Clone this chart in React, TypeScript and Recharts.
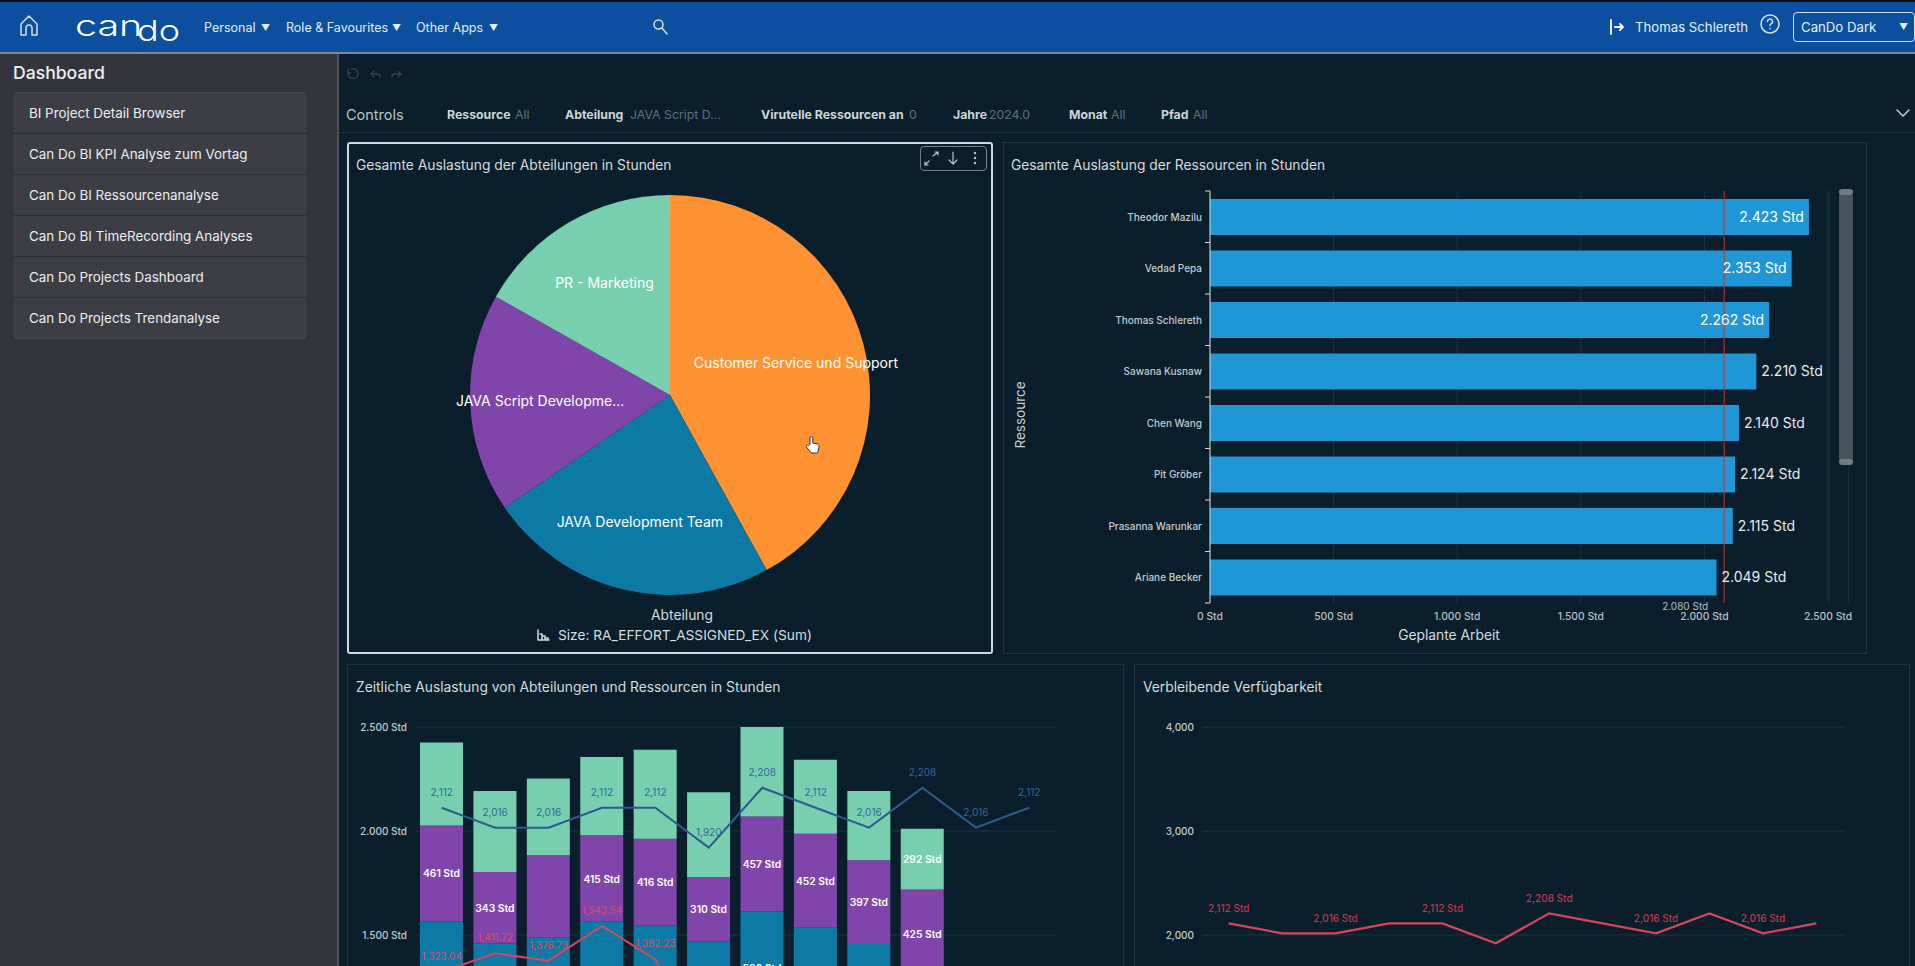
import { CSSProperties, ReactNode } from 'react';
import {
  Bar, BarChart, CartesianGrid, Cell, ComposedChart, Label, LabelList, Line, LineChart,
  Pie, PieChart, ReferenceLine, XAxis, YAxis,
} from 'recharts';

const FONT = 'Inter, "Noto Sans", sans-serif';

// sidebar + toolbar text
const sidebarItems = [
  'BI Project Detail Browser',
  'Can Do BI KPI Analyse zum Vortag',
  'Can Do BI Ressourcenanalyse',
  'Can Do BI TimeRecording Analyses',
  'Can Do Projects Dashboard',
  'Can Do Projects Trendanalyse',
];

// pie
const departments = ['Customer Service und Support', 'JAVA Development Team', 'JAVA Script Developme...', 'PR - Marketing'];
const departmentHours = [9860, 5520, 4160, 3950];
const departmentColors = ['#FF9232', '#0C7AA4', '#7F45AA', '#77CFB0'];

// horizontal bars
const resources = ['Theodor Mazilu', 'Vedad Pepa', 'Thomas Schlereth', 'Sawana Kusnaw', 'Chen Wang', 'Pit Gröber', 'Prasanna Warunkar', 'Ariane Becker'];
const plannedHours = [2423, 2353, 2262, 2210, 2140, 2124, 2115, 2049];
const plannedInside = [2423, 2353, 2262, null, null, null, null, null];
const plannedOutside = [null, null, null, 2210, 2140, 2124, 2115, 2049];
const plannedTicks = [0, 500, 1000, 1500, 2000, 2500];
const averagePlanned = 2080;

// stacked bars, the lower part runs off the page so orange and most of blue are estimates
const months = ['Jan', 'Feb', 'Mär', 'Apr', 'Mai', 'Jun', 'Jul', 'Aug', 'Sep', 'Okt', 'Nov', 'Dez'];
const customerHours = [1006, 955, 967, 1009, 1002, 969, 1017, 995, 952, 854, null, null];
const javaHours = [560, 505, 520, 555, 545, 500, 596, 540, 510, 440, null, null];
const scriptHours = [461, 343, 396, 415, 416, 310, 457, 452, 397, 425, null, null];
const marketingHours = [398, 389, 369, 377, 428, 407, 430, 356, 333, 292, null, null];
const javaShown = [null, null, null, null, null, null, 596, null, null, null, null, null];
const scriptShown = [461, 343, null, 415, 416, 310, 457, 452, 397, 425, null, null];
const marketingShown = [null, null, null, null, null, null, null, null, null, 292, null, null];
const capacity = [2112, 2016, 2016, 2112, 2112, 1920, 2208, 2112, 2016, 2208, 2016, 2112];
const assigned = [1323.04, 1411.72, 1376.73, 1543.54, 1382.23, 950, 1010, 1080, 1020, 1100, 700, 650];
const assignedShown = [1323.04, 1411.72, 1376.73, 1543.54, 1382.23, null, null, null, null, null, null, null];
const stackedTicks = [1500, 2000, 2500];

// remaining availability
const availabilityShown = [2112, null, 2016, null, 2112, null, 2208, null, 2016, null, 2016, null];
const availabilityTicks = [2000, 3000, 4000];

const pieData = departments.map((name, i) => ({ name, value: departmentHours[i] }));
const barData = resources.map((name, i) => ({ name, value: plannedHours[i], inside: plannedInside[i], outside: plannedOutside[i] }));
const stackData = months.map((month, i) => ({
  month,
  customer: customerHours[i],
  java: javaHours[i],
  script: scriptHours[i],
  marketing: marketingHours[i],
  javaLabel: javaShown[i],
  scriptLabel: scriptShown[i],
  marketingLabel: marketingShown[i],
  capacity: capacity[i],
  assigned: assigned[i],
  assignedLabel: assignedShown[i],
}));
const availabilityData = months.map((month, i) => ({ month, value: capacity[i], label: availabilityShown[i] }));

const dots = (v: number) => String(Math.round(v)).replace(/\B(?=(\d{3})+$)/g, '.');
const commas = (v: number) => String(Math.round(v)).replace(/\B(?=(\d{3})+$)/g, ',');
const std = (v: any) => (v == null ? '' : `${dots(v)} Std`);
const commaStd = (v: any) => (v == null ? '' : `${commas(v)} Std`);
const comma2 = (v: any) => (v == null ? '' : v.toLocaleString('en-US', { minimumFractionDigits: 2, maximumFractionDigits: 2 }));

function T({ x, y, size = 13, color = '#d5dbde', weight = 400, center, children, style }: {
  x: number; y: number; size?: number; color?: string; weight?: number; center?: boolean; children: ReactNode; style?: CSSProperties;
}) {
  return (
    <span style={{
      position: 'absolute', left: x, top: y + 1, fontSize: size, color, fontWeight: weight, whiteSpace: 'nowrap', lineHeight: 1,
      transform: center ? 'translate(-50%,-50%)' : 'translateY(-50%)', ...style,
    }}>{children}</span>
  );
}

function Box({ x, y, w, h, style, children }: { x: number; y: number; w: number; h: number; style?: CSSProperties; children?: ReactNode }) {
  return <div style={{ position: 'absolute', left: x, top: y, width: w, height: h, boxSizing: 'border-box', ...style }}>{children}</div>;
}

function Icon({ x, y, w, h, vb, children, stroke = '#d5e2ee', sw = 1.5 }: {
  x: number; y: number; w: number; h: number; vb?: string; children: ReactNode; stroke?: string; sw?: number;
}) {
  return (
    <svg style={{ position: 'absolute', left: x, top: y }} width={w} height={h} viewBox={vb || `0 0 ${w} ${h}`} fill="none" stroke={stroke} strokeWidth={sw} strokeLinecap="round" strokeLinejoin="round">
      {children}
    </svg>
  );
}

function PieLabel({ cx, cy, midAngle, name }: any) {
  const a = (-midAngle * Math.PI) / 180;
  return (
    <text x={cx + 130 * Math.cos(a)} y={cy + 130 * Math.sin(a)} fill="#ffffff" fontSize={14} textAnchor="middle" dominantBaseline="central">
      {name}
    </text>
  );
}

// the Label wraps narrow text, so stacked values are drawn by hand at the bar's middle
function StackLabel({ x, y, width, height, value }: any) {
  if (value == null) return null;
  return (
    <text x={x + width / 2} y={y + height / 2} fill="#fff" fontSize={10.3} fontWeight={600} textAnchor="middle" dominantBaseline="central">
      {std(value)}
    </text>
  );
}

// sits a little higher in the reference, only its top shows above the page edge
const JavaLabel = (p: any) => StackLabel({ ...p, y: p.y - 5 });

const BAND = 412 / resources.length;

// tick marks sit between the bars, not on them
function ResourceTick({ x, y, payload, index }: any) {
  const ax = x + 8;
  return (
    <g>
      <text x={x} y={y} fill="#c3cbcf" fontSize={10} fontWeight={500} textAnchor="end" dominantBaseline="central">{payload.value}</text>
      <line x1={ax - 5} x2={ax} y1={y - BAND / 2} y2={y - BAND / 2} stroke="#d8dee0" />
      {index === resources.length - 1 && <line x1={ax - 5} x2={ax} y1={y + BAND / 2} y2={y + BAND / 2} stroke="#d8dee0" />}
    </g>
  );
}

const panelBorder = '1px solid #1b3543';
const grid = '#1b3644';

export default function App() {
  return (
    <div style={{ position: 'fixed', left: 0, top: 0, width: 1915, height: 966, overflow: 'hidden', background: '#0a1f2b', fontFamily: FONT }}>
      {/* header */}
      <Box x={0} y={0} w={1915} h={2} style={{ background: '#0a0f16' }} />
      <Box x={0} y={2} w={1915} h={50} style={{ background: '#0b4f9e' }} />
      <Box x={0} y={52} w={1915} h={2} style={{ background: '#7d8b96' }} />
      <Icon x={17} y={14} w={24} h={24}>
        <path d="M4 21V10l8-8 8 8v11h-5v-7a3 3 0 0 0-6 0v7z" />
      </Icon>
      <T x={75} y={24} size={29} color="#fff" weight={300} style={{ transform: 'translateY(-50%) scaleX(1.36)', transformOrigin: 'left' }}>can</T>
      <T x={137} y={29} size={29} color="#fff" weight={300} style={{ transform: 'translateY(-50%) scaleX(1.24)', transformOrigin: 'left' }}>do</T>
      <T x={204} y={27} size={12.5} color="#e4edf6">Personal</T>
      <T x={261} y={26} size={9} color="#e4edf6">▼</T>
      <T x={286} y={27} size={12.5} color="#e4edf6">Role &amp; Favourites</T>
      <T x={392} y={26} size={9} color="#e4edf6">▼</T>
      <T x={416} y={27} size={12.5} color="#e4edf6">Other Apps</T>
      <T x={489} y={26} size={9} color="#e4edf6">▼</T>
      <Icon x={652} y={18} w={16} h={17}>
        <circle cx="6.5" cy="6.5" r="4.5" />
        <path d="M10 10l5 6" />
      </Icon>
      <Icon x={1609} y={19} w={17} h={16} sw={1.8} stroke="#fff">
        <path d="M2 1v14M6 8h8M11 5l3 3-3 3" />
      </Icon>
      <T x={1635} y={26.5} size={13.2} color="#e8eff7">Thomas Schlereth</T>
      <Icon x={1760} y={14} w={20} h={20}>
        <circle cx="10" cy="10" r="9" />
        <path d="M7.5 7.5a2.5 2.5 0 1 1 3.5 2.4c-.7.4-1 .8-1 1.6M10 14.5v.2" />
      </Icon>
      <Box x={1793} y={12} w={122} h={30} style={{ border: '1px solid #cfe0f0', borderRadius: 4 }} />
      <T x={1801} y={26.5} size={13.2} color="#e8eff7">CanDo Dark</T>
      <T x={1899} y={25} size={9} color="#e8eff7">▼</T>

      {/* sidebar */}
      <Box x={0} y={54} w={337} h={912} style={{ background: '#34353c' }} />
      <Box x={337} y={54} w={2} h={912} style={{ background: '#4b5157' }} />
      <T x={13} y={72} size={17.6} color="#eef0f1" weight={500}>Dashboard</T>
      <Box x={14} y={92} w={292} h={247} style={{ background: '#3c3d45', border: '1px solid #45464d', borderRadius: 3 }} />
      {sidebarItems.map((item, i) => (
        <div key={item}>
          {i > 0 && <Box x={14} y={92 + i * 41} w={292} h={1} style={{ background: '#2e2f35' }} />}
          <T x={29} y={113 + i * 41} size={13.4} color="#eceded">{item}</T>
        </div>
      ))}

      {/* toolbar */}
      <Icon x={346} y={67} w={60} h={14} stroke="#33444e" sw={1.3}>
        <path d="M5 2a5 5 0 1 1-3 4M2 2v4h3" />
        <path d="M28 4l-3 3 3 3M25 7h6a3 3 0 0 1 3 3" />
        <path d="M52 4l3 3-3 3M55 7h-6a3 3 0 0 0-3 3" />
      </Icon>
      <T x={346} y={114} size={14.5} color="#b9c3c8">Controls</T>
      {[
        ['Ressource', 447, 'All', 515], ['Abteilung', 565, 'JAVA Script D...', 630], ['Virutelle Ressourcen an', 761, '0', 909],
        ['Jahre', 953, '2024.0', 989], ['Monat', 1069, 'All', 1111], ['Pfad', 1161, 'All', 1193],
      ].map(([k, kx, v, vx]) => (
        <div key={String(k)}>
          <T x={kx as number} y={114} size={12.3} weight={700} color="#cdd4d7">{k}</T>
          <T x={vx as number} y={114} size={12.3} color="#5f7079">{v}</T>
        </div>
      ))}
      <Icon x={1896} y={109} w={14} h={9} stroke="#c2ccd1">
        <path d="M1 1l6 6 6-6" />
      </Icon>
      <Box x={339} y={132} w={1576} h={1} style={{ background: '#182f3c' }} />

      {/* pie panel */}
      <Box x={347} y={142} w={646} h={512} style={{ border: '2px solid #cbd8dc', borderRadius: 3 }} />
      <T x={356} y={165} size={13.8} color="#d5dbde">Gesamte Auslastung der Abteilungen in Stunden</T>
      <Box x={920} y={146} w={67} h={25} style={{ border: '1px solid #71818a', borderRadius: 4 }} />
      <Icon x={923} y={150} w={62} h={17} stroke="#b7c4ca" sw={1.2}>
        <path d="M10 6l5-4M12 2h3v3M6 11l-4 4M2 12v3h3" />
        <path d="M30 2v12M26 10l4 4 4-4" />
        <path d="M52 3v.1M52 8v.1M52 13v.1" strokeWidth="2.4" />
      </Icon>
      <div style={{ position: 'absolute', left: 349, top: 144 }}>
        <PieChart width={642} height={508} margin={{ top: 0, right: 0, bottom: 0, left: 0 }}>
          <Pie
            data={pieData} dataKey="value" nameKey="name" cx={321} cy={251} outerRadius={200}
            startAngle={90} endAngle={-270} stroke="none" labelLine={false} label={PieLabel} isAnimationActive={false}
          >
            {departments.map((d, i) => <Cell key={d} fill={departmentColors[i]} />)}
          </Pie>
        </PieChart>
      </div>
      <T x={682} y={614.5} size={13.8} color="#d5dbde" center>Abteilung</T>
      <Icon x={537} y={629} w={13} h={12} stroke="#d5dbde" sw={1.5}>
        <path d="M1 1v10h11M3 5h2v6M6 7h2v4M9 9h2v2" />
      </Icon>
      <T x={558} y={634.5} size={13.7} color="#d5dbde">Size: RA_EFFORT_ASSIGNED_EX (Sum)</T>
      <Icon x={805} y={435} w={16} h={20} stroke="#333" sw={1}>
        <path d="M5 9V3a1.4 1.4 0 0 1 2.8 0v5l5 1.2c1 .3 1.5 1 1.3 2l-1 5.3c-.2.8-.7 1.5-1.6 1.5H7c-.8 0-1.2-.4-1.7-1L1.5 12c-.8-1.2.8-2.5 1.8-1.5z" fill="#fff" />
      </Icon>

      {/* horizontal bar panel */}
      <Box x={1003} y={142} w={864} h={512} style={{ border: panelBorder }} />
      <T x={1011} y={165} size={13.8} color="#d5dbde">Gesamte Auslastung der Ressourcen in Stunden</T>
      <div style={{ position: 'absolute', left: 1003, top: 142 }}>
        <BarChart
          width={864} height={512} data={barData} layout="vertical"
          margin={{ top: 49, right: 39, bottom: 0, left: 0 }} barSize={36}
        >
          <CartesianGrid horizontal={false} stroke={grid} />
          <YAxis
            type="category" dataKey="name" width={207} interval={0} stroke="#d8dee0" tickLine={false} tickSize={0} tickMargin={8}
            tick={ResourceTick}
          >
            <Label value="Ressource" angle={-90} position="insideLeft" offset={17} dy={18} fill="#c9d0d4" fontSize={13.5} style={{ textAnchor: 'middle' }} />
          </YAxis>
          <XAxis
            type="number" domain={[0, 2500]} ticks={plannedTicks} height={51} axisLine={false} tickLine={false} tickMargin={4}
            tickFormatter={std} tick={{ fill: '#b6bfc4', fontSize: 10.3, fontWeight: 500 }} interval={0}
          >
            <Label value="Geplante Arbeit" position="insideBottom" offset={14} dx={-70} fill="#d5dbde" fontSize={13.8} />
          </XAxis>
          <Bar dataKey="value" fill="#1f96d6" isAnimationActive={false}>
            <LabelList dataKey="inside" position="insideRight" offset={5} formatter={std} fill="#ffffff" fontSize={14} />
            <LabelList dataKey="outside" position="right" offset={5} formatter={std} fill="#e6ebed" fontSize={14} />
          </Bar>
          <ReferenceLine
            x={averagePlanned} stroke="#b93a2c" strokeWidth={1}
            label={{ value: std(averagePlanned), position: 'bottom', offset: 0, dx: -39, fill: '#b6bfc4', fontSize: 10 }}
          />
        </BarChart>
      </div>
      <Box x={1829} y={191} w={20} h={412} style={{ borderLeft: '1px solid #15303d', borderRight: '1px solid #15303d' }} />
      <Box x={1839} y={189} w={14} h={276} style={{ background: '#46555d', borderRadius: 7 }} />
      <Box x={1839} y={189} w={14} h={6} style={{ background: '#6f7d83', borderRadius: 7 }} />
      <Box x={1839} y={459} w={14} h={6} style={{ background: '#6f7d83', borderRadius: 7 }} />

      {/* stacked panel */}
      <Box x={347} y={664} w={777} h={320} style={{ border: panelBorder }} />
      <T x={356} y={687} size={13.8} color="#d5dbde">Zeitliche Auslastung von Abteilungen und Ressourcen in Stunden</T>
      <div style={{ position: 'absolute', left: 347, top: 664 }}>
        <ComposedChart width={777} height={593} data={stackData} margin={{ top: 63, right: 68, bottom: 10, left: 0 }} barSize={43}>
          <CartesianGrid vertical={false} stroke={grid} />
          <XAxis dataKey="month" hide />
          <YAxis
            type="number" domain={[0, 2500]} ticks={stackedTicks} width={68} axisLine={false} tickLine={false} tickMargin={2}
            tickFormatter={std} tick={{ fill: '#c3cbcf', fontSize: 10, fontWeight: 500 }} interval={0}
          />
          <Bar dataKey="customer" stackId="a" fill="#FF9232" isAnimationActive={false} />
          <Bar dataKey="java" stackId="a" fill="#0C7AA4" isAnimationActive={false}>
            <LabelList dataKey="javaLabel" content={JavaLabel} />
          </Bar>
          <Bar dataKey="script" stackId="a" fill="#7F45AA" isAnimationActive={false}>
            <LabelList dataKey="scriptLabel" content={StackLabel} />
          </Bar>
          <Bar dataKey="marketing" stackId="a" fill="#77CFB0" isAnimationActive={false}>
            <LabelList dataKey="marketingLabel" content={StackLabel} />
          </Bar>
          <Line dataKey="capacity" stroke="#2e5a8c" strokeWidth={2} dot={false} isAnimationActive={false}>
            <LabelList dataKey="capacity" position="top" offset={12} formatter={commas} fill="#35679a" fontSize={10} />
          </Line>
          <Line dataKey="assigned" stroke="#d8445e" strokeWidth={2} dot={false} isAnimationActive={false}>
            <LabelList dataKey="assignedLabel" position="top" offset={12} formatter={comma2} fill="#df4a64" fontSize={10} />
          </Line>
        </ComposedChart>
      </div>

      {/* availability panel */}
      <Box x={1134} y={664} w={776} h={320} style={{ border: panelBorder }} />
      <T x={1143} y={687} size={13.8} color="#d5dbde">Verbleibende Verfügbarkeit</T>
      <div style={{ position: 'absolute', left: 1134, top: 664 }}>
        <LineChart width={776} height={489} data={availabilityData} margin={{ top: 63, right: 67, bottom: 10, left: 0 }}>
          <CartesianGrid vertical={false} stroke={grid} />
          <XAxis dataKey="month" hide scale="band" />
          <YAxis
            type="number" domain={[0, 4000]} ticks={availabilityTicks} width={68} axisLine={false} tickLine={false} tickMargin={2}
            tickFormatter={commas} tick={{ fill: '#c3cbcf', fontSize: 10, fontWeight: 500 }} interval={0}
          />
          <Line dataKey="value" stroke="#d8445e" strokeWidth={2.2} dot={false} isAnimationActive={false}>
            <LabelList dataKey="label" position="top" offset={11} formatter={commaStd} fill="#b8394f" fontSize={10} fontWeight={500} />
          </Line>
        </LineChart>
      </div>
    </div>
  );
}
